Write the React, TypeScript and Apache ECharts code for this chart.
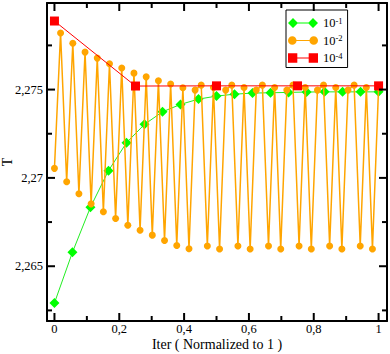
import React, { useEffect, useRef } from 'react';
import * as echarts from 'echarts';

// Tick values
const xMajorTicks = [0, 0.2, 0.4, 0.6, 0.8, 1];
const xMinorTicks = [0.1, 0.3, 0.5, 0.7, 0.9];
const yMajorTicks = [2.265, 2.27, 2.275];
const yMinorTicks = [2.2625, 2.2675, 2.2725, 2.2775];

// Series names (legend: 10^-1, 10^-2, 10^-4)
const seriesNames = ['10-1', '10-2', '10-4'];

// T per iteration, tolerance 10^-1
const tTol1 = [
  2.26292, 2.26579, 2.26834, 2.27041, 2.27199, 2.27303, 2.27374, 2.27416, 2.27446,
  2.27463, 2.27474, 2.2748, 2.27482, 2.27484, 2.27486, 2.27487, 2.27487, 2.27487, 2.27487,
];

// T per iteration, tolerance 10^-2
const tTol2 = [
  2.27054, 2.2782, 2.26978, 2.27762, 2.2691, 2.27712, 2.26853, 2.27678, 2.26808, 2.27646,
  2.2677, 2.27622, 2.26732, 2.27593, 2.26704, 2.27572, 2.26676, 2.2755, 2.26646, 2.27531,
  2.26617, 2.2751, 2.26599, 2.27497, 2.27525, 2.26615, 2.27512, 2.26598, 2.27497, 2.27525,
  2.26615, 2.27512, 2.26598, 2.27497, 2.27525, 2.26615, 2.27512, 2.26598, 2.27497, 2.27525,
  2.26615, 2.27512, 2.26598, 2.27497, 2.27525, 2.26615, 2.27512, 2.26598, 2.27497, 2.27525,
  2.26615, 2.27512, 2.26598, 2.27512,
];

// T per iteration, tolerance 10^-4
const tTol4 = [2.27888, 2.2752, 2.27521, 2.27521, 2.27521];

const X_MIN = -0.023;
const X_MAX = 1.026;
const Y_MIN = 2.2619;
const Y_MAX = 2.2799;

const FONT = '"Liberation Serif", "Times New Roman", serif';

// iteration index normalized to 1
const normalize = (vals: number[]) => vals.map((v, i) => [i / (vals.length - 1), v]);

const fmt = (v: number) => {
  if (Math.abs(v) < 1e-9) return '0';
  return String(parseFloat(v.toFixed(4))).replace('.', ',');
};

const iconDiamond =
  'path://M0,5L5,0L10,5L5,10Z M9,4.5L21,4.5L21,5.5L9,5.5Z M20,5L25,0L30,5L25,10Z';
const iconCircle =
  'path://M1,5A4,4 0 1,1 9,5A4,4 0 1,1 1,5Z M8,4.5L22,4.5L22,5.5L8,5.5Z M21,5A4,4 0 1,1 29,5A4,4 0 1,1 21,5Z';
const iconSquare =
  'path://M0.5,0.5L9.5,0.5L9.5,9.5L0.5,9.5Z M9,4.5L21,4.5L21,5.5L9,5.5Z M20.5,0.5L29.5,0.5L29.5,9.5L20.5,9.5Z';

export default function App() {
  const ref = useRef<HTMLDivElement>(null);

  useEffect(() => {
    if (!ref.current) return;
    const chart = echarts.init(ref.current, undefined, { renderer: 'svg' });

    const lineStyle = { color: '#000', width: 2 };

    // tick rows: [value, side(0 bottom,1 top,2 left,3 right), length]
    const tickData: number[][] = [];
    xMajorTicks.forEach((v) => { tickData.push([v, 0, 8]); tickData.push([v, 1, 8]); });
    xMinorTicks.forEach((v) => { tickData.push([v, 0, 5]); tickData.push([v, 1, 5]); });
    yMajorTicks.forEach((v) => { tickData.push([v, 2, 8]); tickData.push([v, 3, 8]); });
    yMinorTicks.forEach((v) => { tickData.push([v, 2, 5]); tickData.push([v, 3, 5]); });

    const option: any = {
      animation: false,
      backgroundColor: '#fff',
      grid: { left: 47, right: 3, top: 3, bottom: 33, containLabel: false, outerBoundsMode: 'none' },
      xAxis: [
        {
          type: 'value',
          position: 'bottom',
          min: X_MIN,
          max: X_MAX,
          splitLine: { show: false },
          axisLine: { show: true, onZero: false, lineStyle },
          axisTick: { show: false },
          axisLabel: {
            show: true,
            customValues: xMajorTicks,
            formatter: fmt,
            fontFamily: FONT,
            fontSize: 12.5,
            color: '#000',
            margin: 1,
          },
          name: 'Iter ( Normalized to 1 )',
          nameLocation: 'middle',
          nameGap: 16,
          nameMoveOverlap: false,
          nameTextStyle: { fontFamily: FONT, fontSize: 14, color: '#000' },
        },
        {
          type: 'value',
          position: 'top',
          min: X_MIN,
          max: X_MAX,
          splitLine: { show: false },
          axisLine: { show: true, onZero: false, lineStyle },
          axisTick: { show: false },
          axisLabel: { show: false },
        },
      ],
      yAxis: [
        {
          type: 'value',
          position: 'left',
          min: Y_MIN,
          max: Y_MAX,
          splitLine: { show: false },
          axisLine: { show: true, onZero: false, lineStyle },
          axisTick: { show: false },
          axisLabel: {
            show: true,
            customValues: yMajorTicks,
            formatter: fmt,
            fontFamily: FONT,
            fontSize: 12.5,
            color: '#000',
            margin: 4,
          },
          name: 'T',
          nameLocation: 'middle',
          nameGap: 33,
          nameMoveOverlap: false,
          nameRotate: 90,
          nameTextStyle: { fontFamily: FONT, fontSize: 14, color: '#000' },
        },
        {
          type: 'value',
          position: 'right',
          min: Y_MIN,
          max: Y_MAX,
          splitLine: { show: false },
          axisLine: { show: true, onZero: false, lineStyle },
          axisTick: { show: false },
          axisLabel: { show: false },
        },
      ],
      legend: {
        left: 286,
        top: 10,
        orient: 'vertical',
        backgroundColor: '#fff',
        borderColor: '#000',
        borderWidth: 1,
        borderRadius: 0,
        padding: [6, 5, 3, 2],
        itemWidth: 30,
        itemHeight: 10,
        itemGap: 4,
        selectedMode: false,
        data: [
          { name: seriesNames[0], icon: iconDiamond },
          { name: seriesNames[1], icon: iconCircle },
          { name: seriesNames[2], icon: iconSquare },
        ],
        formatter: (n: string) => `{b|10}{s|${n.slice(2)}}`,
        textStyle: {
          fontFamily: FONT,
          fontSize: 12.5,
          color: '#000',
          rich: {
            b: { fontFamily: FONT, fontSize: 12.5, lineHeight: 14, color: '#000' },
            s: { fontFamily: FONT, fontSize: 8.5, lineHeight: 6, verticalAlign: 'top', color: '#000' },
          },
        },
      },
      series: [
        {
          name: seriesNames[0],
          type: 'line',
          data: normalize(tTol1),
          symbol: 'diamond',
          symbolSize: 10,
          itemStyle: { color: '#00ff00' },
          lineStyle: { color: '#22ee22', width: 1 },
          z: 2,
        },
        {
          name: seriesNames[1],
          type: 'line',
          data: normalize(tTol2),
          symbol: 'circle',
          symbolSize: 7,
          itemStyle: { color: '#ffa500' },
          lineStyle: { color: '#ffa500', width: 1.5 },
          z: 3,
        },
        {
          name: seriesNames[2],
          type: 'line',
          data: normalize(tTol4),
          symbol: 'rect',
          symbolSize: 9,
          itemStyle: { color: '#ff0000' },
          lineStyle: { color: '#ff0000', width: 1 },
          z: 4,
        },
        {
          type: 'custom',
          name: 'ticks',
          silent: true,
          z: 10,
          clip: false,
          data: tickData,
          encode: { x: -1, y: -1 },
          renderItem: (params: any, api: any) => {
            const v = api.value(0);
            const side = api.value(1);
            const len = api.value(2);
            let p: number[];
            let q: number[];
            if (side === 0) {
              p = api.coord([v, Y_MIN]);
              q = [p[0], p[1] - len];
            } else if (side === 1) {
              p = api.coord([v, Y_MAX]);
              q = [p[0], p[1] + len];
            } else if (side === 2) {
              p = api.coord([X_MIN, v]);
              q = [p[0] + len, p[1]];
            } else {
              p = api.coord([X_MAX, v]);
              q = [p[0] - len, p[1]];
            }
            return {
              type: 'line',
              shape: { x1: p[0], y1: p[1], x2: q[0], y2: q[1] },
              style: { stroke: '#000', lineWidth: 2 },
            };
          },
        },
      ],
    };

    chart.setOption(option);
    return () => chart.dispose();
  }, []);

  return (
    <div
      ref={ref}
      style={{ position: 'fixed', left: 0, top: 0, width: 390, height: 354, background: '#fff' }}
    />
  );
}
